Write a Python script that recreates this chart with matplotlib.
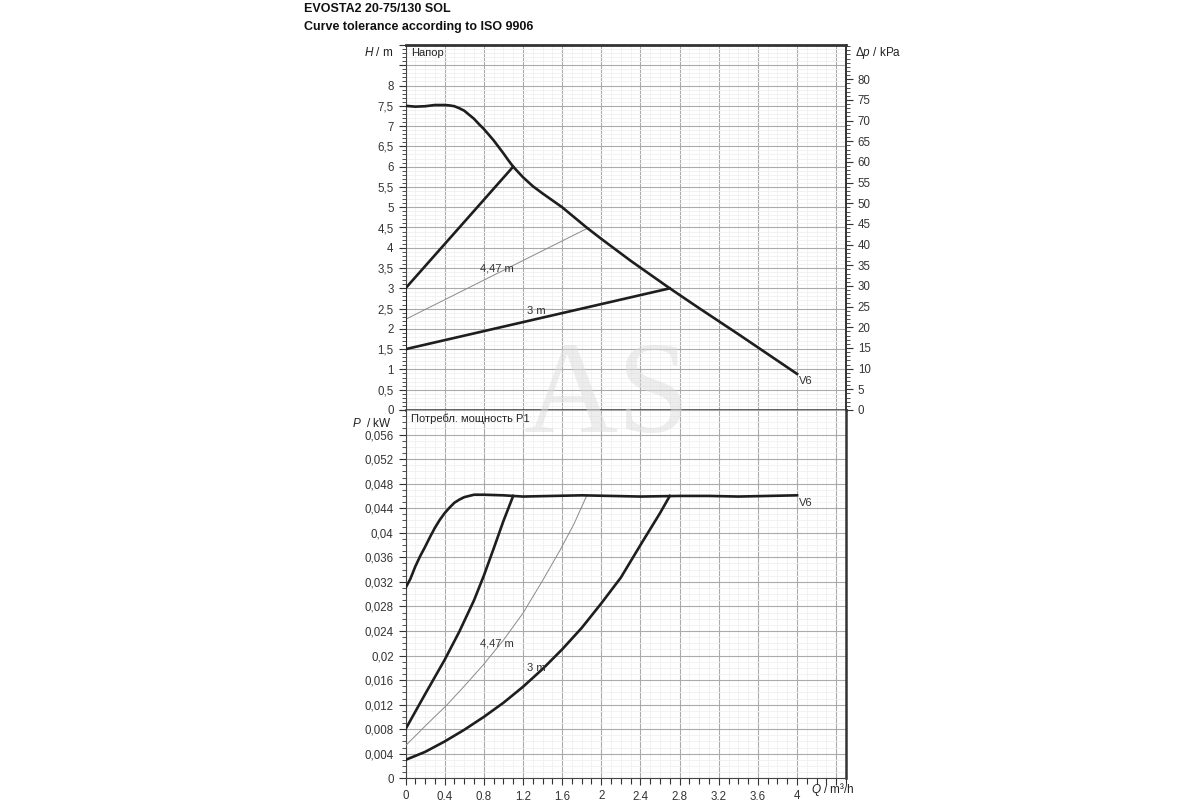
import numpy as np
import matplotlib
matplotlib.use("Agg")
import matplotlib.pyplot as plt
from matplotlib.ticker import MultipleLocator, FixedLocator, FuncFormatter

plt.rcParams['font.family'] = ['Liberation Sans', 'DejaVu Sans']
plt.rcParams['mathtext.fontset'] = 'custom'
plt.rcParams['mathtext.rm'] = 'Liberation Sans'
plt.rcParams['mathtext.it'] = 'Liberation Sans:italic'

# ---------------- data ----------------
title_1 = "EVOSTA2 20-75/130 SOL"
title_2 = "Curve tolerance according to ISO 9906"

# Head curve V6 (Q m3/h, H m)
q_v6_h = [0, 0.1, 0.2, 0.3, 0.4, 0.45, 0.5, 0.55, 0.6, 0.65, 0.7, 0.75, 0.8, 0.85, 0.9,
          0.95, 1.0, 1.05, 1.1, 1.2, 1.3, 1.4, 1.6, 1.85, 2.0, 2.3, 2.7, 3.0, 3.4, 3.7, 4.0]
h_v6 = [7.50, 7.48, 7.49, 7.52, 7.52, 7.51, 7.49, 7.44, 7.38, 7.28, 7.18, 7.05, 6.93,
        6.79, 6.65, 6.49, 6.33, 6.16, 6.00, 5.74, 5.52, 5.34, 5.00, 4.50, 4.22, 3.68,
        3.00, 2.51, 1.87, 1.38, 0.89]

# Control lines (head)
q_max_h = [0, 0, 1.1]
h_max = [1.5, 3.0, 6.0]
q_447_h = [0, 1.85]
h_447 = [2.235, 4.47]
q_3m_h = [0, 2.7]
h_3m = [1.5, 3.0]

# Power curve V6 (Q m3/h, P kW)
q_v6_p = [0, 0.05, 0.1, 0.15, 0.2, 0.25, 0.3, 0.35, 0.4, 0.45, 0.5, 0.55, 0.6, 0.65, 0.7,
          0.8, 1.0, 1.2, 1.5, 1.8, 2.1, 2.4, 2.8, 3.1, 3.4, 3.7, 4.0]
p_v6 = [0.0310, 0.0325, 0.0345, 0.0362, 0.0377, 0.0393, 0.0408, 0.0421, 0.0432, 0.0441,
        0.0449, 0.0454, 0.0458, 0.0460, 0.0462, 0.0462, 0.0461, 0.0459, 0.0460, 0.0461,
        0.0460, 0.0459, 0.0460, 0.0460, 0.0459, 0.0460, 0.0461]

# Power: max (proportional) curve
q_max_p = [0, 0.2, 0.4, 0.55, 0.7, 0.8, 0.9, 1.0, 1.1]
p_max = [0.0080, 0.0137, 0.0193, 0.0239, 0.0290, 0.0330, 0.0374, 0.0419, 0.0460]

# Power: 4.47 m curve
q_447_p = [0, 0.2, 0.42, 0.6, 0.79, 1.0, 1.2, 1.4, 1.58, 1.72, 1.85]
p_447 = [0.0053, 0.0085, 0.0119, 0.0150, 0.0184, 0.0225, 0.0269, 0.0322, 0.0372,
         0.0414, 0.0460]

# Power: 3 m curve
q_3m_p = [0, 0.2, 0.4, 0.6, 0.8, 1.0, 1.2, 1.4, 1.6, 1.8, 2.0, 2.2, 2.4, 2.6, 2.7]
p_3m = [0.0030, 0.0043, 0.0060, 0.0079, 0.0100, 0.0123, 0.0149, 0.0178, 0.0210,
        0.0245, 0.0285, 0.0327, 0.0380, 0.0432, 0.0460]

KPA_PER_M = 9.81

# ---------------- figure ----------------
fig = plt.figure(figsize=(12, 8), dpi=100)
L, R = 405.5 / 1200, 846 / 1200
ax_h = fig.add_axes([L, 1 - 410 / 800, R - L, (410 - 45) / 800])
ax_p = fig.add_axes([L, 1 - 778.3 / 800, R - L, (778.3 - 410) / 800])

def comma(v, pos=None, maxv=None, nd=3):
    if maxv is not None and v > maxv + 1e-9:
        return ""
    return f"{round(v, nd):g}".replace('.', ',')

major_c = '#ababab'
minor_c = '#f0f0f0'
line_c = '#1e1e1e'

for ax in (ax_h, ax_p):
    ax.set_xlim(0, 4.5)
    ax.xaxis.set_major_locator(FixedLocator(np.round(np.arange(0, 4.41, 0.4), 2)))
    ax.xaxis.set_minor_locator(MultipleLocator(0.1))
    ax.grid(True, which='major', color=major_c, lw=0.8, zorder=0)
    ax.grid(True, which='minor', color=minor_c, lw=0.6, zorder=0)
    ax.set_axisbelow(True)
    ax.tick_params(axis='both', which='both', direction='out', labelsize=8.3,
                   colors='#333333')
    ax.tick_params(axis='y', which='major', length=5, width=0.8)
    ax.tick_params(axis='y', which='minor', length=3, width=0.6)
    ax.spines['left'].set_linewidth(0.8)
    ax.spines['left'].set_color('#444444')

# ---- Head plot
ax_h.set_ylim(0, 9)
ax_h.yaxis.set_major_locator(FixedLocator(np.arange(0, 9.01, 0.5)))
ax_h.yaxis.set_minor_locator(MultipleLocator(0.1))
ax_h.yaxis.set_major_formatter(FuncFormatter(lambda v, p: comma(v, maxv=8)))
ax_h.tick_params(axis='x', which='both', bottom=False, labelbottom=False)
ax_h.spines['top'].set_linewidth(2)
ax_h.spines['top'].set_color('#333333')
ax_h.spines['bottom'].set_linewidth(1.8)
ax_h.spines['bottom'].set_color('#333333')
ax_h.spines['right'].set_linewidth(1.2)
ax_h.spines['right'].set_color('#333333')

ax_h.plot(q_v6_h, h_v6, color=line_c, lw=1.9, zorder=4, solid_joinstyle='round')
ax_h.plot(q_max_h, h_max, color=line_c, lw=1.9, zorder=4)
ax_h.plot(q_3m_h, h_3m, color=line_c, lw=1.9, zorder=4)
ax_h.plot(q_447_h, h_447, color='#8a8a8a', lw=0.7, zorder=3)
ax_h.text(0.93, 3.5, "4,47 m", fontsize=8, color='#333333', ha='center', va='center', zorder=5)
ax_h.text(1.34, 2.43, "3 m", fontsize=8, color='#333333', ha='center', va='center', zorder=5)
ax_h.text(4.02, 0.72, "V6", fontsize=8, color='#333333', ha='left', va='center', zorder=5)
ax_h.text(0.055, 8.93, "Напор", fontsize=8, color='#222222', ha='left', va='top', zorder=5)

ax_k = ax_h.twinx()
ax_k.set_ylim(0, 9 * KPA_PER_M)
ax_k.yaxis.set_major_locator(FixedLocator(np.arange(0, 80.1, 5)))
ax_k.yaxis.set_minor_locator(MultipleLocator(1))
ax_k.yaxis.set_major_formatter(FuncFormatter(lambda v, p: f"{v:g}"))
ax_k.tick_params(axis='y', which='major', direction='out', length=5, width=0.8,
                 labelsize=8.3, colors='#333333')
ax_k.tick_params(axis='y', which='minor', direction='out', length=3, width=0.6,
                 colors='#333333')
for s in ('top', 'bottom', 'left'):
    ax_k.spines[s].set_visible(False)
ax_k.spines['right'].set_linewidth(1.2)
ax_k.spines['right'].set_color('#333333')

# ---- Power plot
ax_p.set_ylim(0, 0.06)
ax_p.yaxis.set_major_locator(FixedLocator(np.round(np.arange(0, 0.0601, 0.004), 3)))
ax_p.yaxis.set_minor_locator(MultipleLocator(0.001))
ax_p.yaxis.set_major_formatter(FuncFormatter(lambda v, p: comma(v, maxv=0.0565)))
ax_p.xaxis.set_major_formatter(FuncFormatter(lambda v, p: comma(v, maxv=4.01, nd=2)))
ax_p.tick_params(axis='x', which='major', length=5, width=0.8)
ax_p.tick_params(axis='x', which='minor', length=4, width=0.8)
ax_p.spines['top'].set_visible(False)
ax_p.spines['right'].set_linewidth(1.8)
ax_p.spines['right'].set_color('#333333')
ax_p.spines['bottom'].set_linewidth(0.8)
ax_p.spines['bottom'].set_color('#444444')

ax_p.plot(q_v6_p, p_v6, color=line_c, lw=1.9, zorder=4, solid_joinstyle='round')
ax_p.plot(q_max_p, p_max, color=line_c, lw=1.9, zorder=4, solid_joinstyle='round')
ax_p.plot(q_3m_p, p_3m, color=line_c, lw=1.9, zorder=4, solid_joinstyle='round')
ax_p.plot(q_447_p, p_447, color='#8a8a8a', lw=0.7, zorder=3)
ax_p.text(0.93, 0.0220, "4,47 m", fontsize=8, color='#333333', ha='center', va='center', zorder=5)
ax_p.text(1.34, 0.0180, "3 m", fontsize=8, color='#333333', ha='center', va='center', zorder=5)
ax_p.text(4.02, 0.0448, "V6", fontsize=8, color='#333333', ha='left', va='center', zorder=5)
ax_p.text(0.055, 0.0595, "Потребл. мощность P1", fontsize=8, color='#222222',
          ha='left', va='top', zorder=5)

# ---- axis labels
fig.text(393 / 1200, 1 - 53 / 800, r"$H$ / m", fontsize=8.5, ha='right', va='center', color='#222222')
fig.text(855 / 1200, 1 - 53 / 800, r"Δ$p$ / kPa", fontsize=8.5, ha='left', va='center', color='#222222')
fig.text(392 / 1200, 1 - 423 / 800, r"$P$  / kW", fontsize=8.5, ha='right', va='center', color='#222222')
fig.text(811 / 1200, 1 - 790 / 800, r"$Q$ / m³/h", fontsize=8.5, ha='left', va='center', color='#222222')

# ---- titles
fig.text(304 / 1200, 1 - 9 / 800, title_1, fontsize=9, fontweight='bold', ha='left', va='center', color='#111111')
fig.text(304 / 1200, 1 - 27 / 800, title_2, fontsize=9, fontweight='bold', ha='left', va='center', color='#111111')

# ---- watermark
fig.text(607 / 1200, 1 - 400 / 800, "AS", fontsize=94, family='Liberation Serif',
         color='#dcdcdc', alpha=0.5, ha='center', va='center', zorder=10)

fig.savefig("out.png", dpi=100, facecolor='white')
